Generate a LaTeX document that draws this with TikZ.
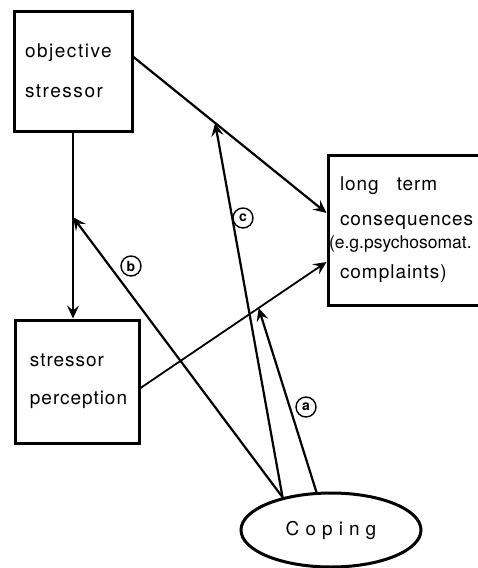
\documentclass[tikz,border=0pt]{standalone}
\usepackage{fontspec}
\setsansfont{TeX Gyre Heros}
\usetikzlibrary{arrows.meta, shapes.geometric, positioning}

\begin{document}
\begin{tikzpicture}[x=1pt, y=-1pt,
    box/.style={rectangle, draw, line width=3pt, align=left, anchor=center,
        font=\sffamily\fontsize{19}{40}\selectfont\addfontfeatures{LetterSpace=8}},
    arr/.style={-{Stealth[length=13pt, width=12pt, inset=5pt]}, line width=2.2pt},
    tag/.style={circle, draw, line width=1.4pt, minimum size=20pt, inner sep=0pt,
        font=\sffamily\bfseries\fontsize{14}{14}\selectfont},
    coping/.style={ellipse, draw, line width=3pt, minimum width=180, minimum height=74,
        font=\sffamily\fontsize{19}{19}\selectfont\addfontfeatures{LetterSpace=32}}
]
    \useasboundingbox (0,0) rectangle (478,568);
    \clip (0,0) rectangle (478,568);

    % Boxes
    \node[box, text width=96, inner xsep=11, minimum height=120] (obj) at (73,71) {objective\\stressor};
    \node[box, text width=94, inner xsep=15, minimum height=123, font=\sffamily\fontsize{19}{38}\selectfont\addfontfeatures{LetterSpace=5}] (perc) at (77,381.5) {stressor\\perception};
    \node[box, text width=138, inner xsep=12, minimum height=150, font=\sffamily\fontsize{19}{35}\selectfont\addfontfeatures{LetterSpace=5}] (lt) at (409,230)
        {long\hspace{18pt}term\\consequences\\[-12pt]\hspace*{-11pt}{\fontsize{17.5}{35}\selectfont\addfontfeatures{LetterSpace=0}(e.g.psychosomat.}\\[-5pt]complaints)};

    % Coping
    \node[coping] (cop) at (331,530) {Coping};

    % Main arrows
    \draw[arr] ([yshift=14pt]obj.east) -- coordinate[pos=0.423] (cTip) ([yshift=17pt]lt.west);
    \draw[arr, line width=1.8pt] ([yshift=-6.5pt]perc.east) -- coordinate[pos=0.635] (aTip) ([yshift=-32pt]lt.west);
    \draw[arr, line width=1.6pt] (obj.south) -- coordinate[pos=0.455] (bTip) (obj.south |- perc.north);

    % Coping arrows
    \draw[arr] (cop.146) -- (bTip);
    \draw[arr] (cop.146) -- (cTip);
    \draw[arr] (cop.111) -- (aTip);

    % Labels
    \node[tag] (la) at (306,407) {a};
    \node[tag] (lb) at (131,266) {b};
    \node[tag] (lc) at (243,218) {c};
\end{tikzpicture}
\end{document}
